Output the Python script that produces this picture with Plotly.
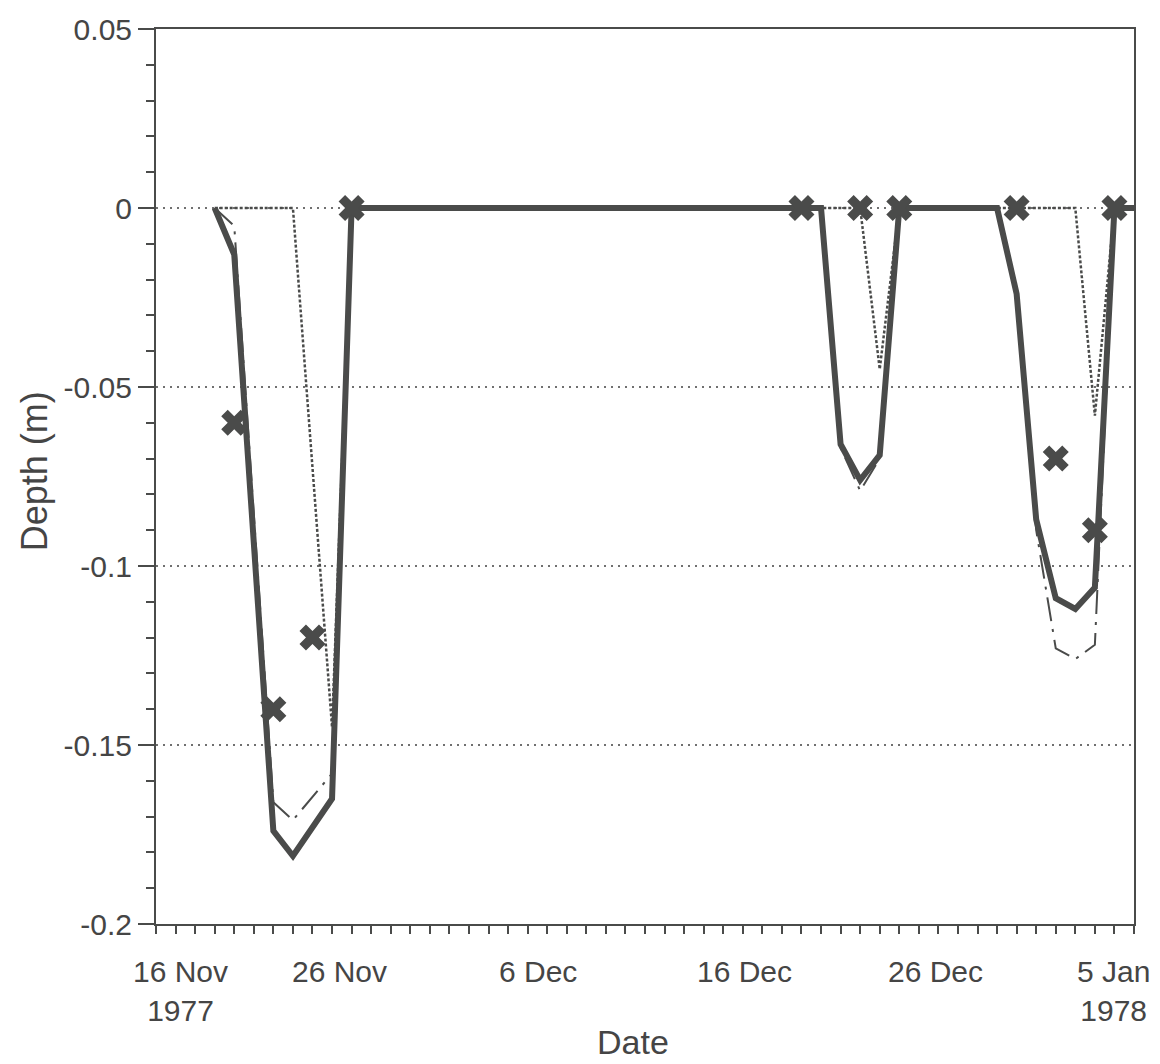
import plotly.graph_objects as go
import pandas as pd

# ---- data ----
model_dates = ['1977-11-19', '1977-11-20', '1977-11-22', '1977-11-23', '1977-11-25', '1977-11-26',
               '1977-12-20', '1977-12-21', '1977-12-22', '1977-12-23', '1977-12-24',
               '1977-12-29', '1977-12-30', '1977-12-31', '1978-01-01', '1978-01-02',
               '1978-01-03', '1978-01-04', '1978-01-05']
model_depth = [0, -0.013, -0.174, -0.181, -0.165, 0,
               0, -0.066, -0.076, -0.069, 0,
               0, -0.024, -0.087, -0.109, -0.112,
               -0.106, 0, 0]

alt_dates = ['1977-11-19', '1977-11-20', '1977-11-22', '1977-11-23', '1977-11-25', '1977-11-26',
             '1977-12-20', '1977-12-21', '1977-12-22', '1977-12-23', '1977-12-24',
             '1977-12-29', '1977-12-30', '1977-12-31', '1978-01-01', '1978-01-02',
             '1978-01-03', '1978-01-04', '1978-01-05']
alt_depth = [0, -0.005, -0.166, -0.171, -0.158, 0,
             0, -0.067, -0.079, -0.070, 0,
             0, -0.024, -0.090, -0.123, -0.126,
             -0.122, 0, 0]

dot_dates = ['1977-11-19', '1977-11-23', '1977-11-25', '1977-11-26',
             '1977-12-22', '1977-12-23', '1977-12-24',
             '1978-01-02', '1978-01-03', '1978-01-04', '1978-01-05']
dot_depth = [0, 0, -0.145, 0,
             0, -0.045, 0,
             0, -0.058, 0, 0]

obs_dates = ['1977-11-20', '1977-11-22', '1977-11-24', '1977-11-26',
             '1977-12-19', '1977-12-22', '1977-12-24',
             '1977-12-30', '1978-01-01', '1978-01-03', '1978-01-04']
obs_depth = [-0.06, -0.14, -0.12, 0,
             0, 0, 0,
             0, -0.07, -0.09, 0]

y_tickvals = [-0.2, -0.15, -0.1, -0.05, 0, 0.05]
y_ticktext = ['-0.2', '-0.15', '-0.1', '-0.05', '0', '0.05']

x_label_dates = ['1977-11-16', '1977-11-26', '1977-12-06', '1977-12-16', '1977-12-26', '1978-01-05']
x_label_text = ['16 Nov<br>1977', '26 Nov', '6 Dec', '16 Dec', '26 Dec', '5 Jan<br>1978']
x_label_shift = [24, -12, -9, 2, -3, -21]

major_x_ticks = pd.date_range('1977-11-16', '1978-01-05', freq='5D')
minor_x_ticks = pd.date_range('1977-11-16', '1978-01-05', freq='1D')

# ---- style ----
INK = '#4a4b4a'
TXT = '#454545'
FONT = 'Liberation Sans, Arial, Helvetica, sans-serif'

fig = go.Figure()

fig.add_trace(go.Scatter(x=dot_dates, y=dot_depth, mode='lines',
                         line=dict(color=INK, width=2.5, dash='3px,2px'),
                         showlegend=False))
fig.add_trace(go.Scatter(x=alt_dates, y=alt_depth, mode='lines',
                         line=dict(color=INK, width=2, dash='24px,8px,3px,8px'),
                         showlegend=False))
fig.add_trace(go.Scatter(x=model_dates, y=model_depth, mode='lines',
                         line=dict(color=INK, width=6),
                         showlegend=False))
fig.add_trace(go.Scatter(x=obs_dates, y=obs_depth, mode='markers',
                         marker=dict(symbol='x', size=23, color=INK, line=dict(width=0)),
                         showlegend=False))

annotations = []
for d, t, s in zip(x_label_dates, x_label_text, x_label_shift):
    annotations.append(dict(x=d, xref='x', y=0, yref='paper', yanchor='top',
                            xanchor='center', xshift=s, yshift=-29, text=t,
                            showarrow=False, align='center',
                            font=dict(family=FONT, size=30, color=TXT)))
annotations.append(dict(x=0.5, xref='paper', y=0, yref='paper', yanchor='middle',
                        xanchor='center', xshift=-12, yshift=-118, text='Date',
                        showarrow=False, font=dict(family=FONT, size=34, color=TXT)))
annotations.append(dict(x=-0.124, xref='paper', y=0.5, yref='paper', yanchor='middle',
                        xanchor='center', yshift=5, text='Depth (m)', textangle=-90,
                        showarrow=False, font=dict(family=FONT, size=36, color=TXT)))

fig.update_layout(
    width=1160, height=1064, autosize=False,
    margin=dict(l=156, r=26, t=27, b=140),
    paper_bgcolor='white', plot_bgcolor='white',
    showlegend=False,
    annotations=annotations,
    xaxis=dict(type='date', range=['1977-11-16', '1978-01-05'],
               showline=True, linecolor=INK, linewidth=2, mirror=True,
               ticks='outside', ticklen=16, tickwidth=2, tickcolor=INK,
               tickmode='array', tickvals=list(major_x_ticks),
               ticktext=[''] * len(major_x_ticks),
               showgrid=False, zeroline=False,
               minor=dict(tickmode='array', tickvals=list(minor_x_ticks),
                          ticks='outside', ticklen=8, tickwidth=1.5,
                          tickcolor=INK, showgrid=False)),
    yaxis=dict(range=[-0.2, 0.05],
               showline=True, linecolor=INK, linewidth=2, mirror=True,
               ticks='outside', ticklen=16, tickwidth=2, tickcolor=INK,
               tickmode='array', tickvals=y_tickvals, ticktext=y_ticktext,
               tickfont=dict(family=FONT, size=30, color=TXT),
               showgrid=True, gridcolor='#707070', gridwidth=2, griddash='2px,5px',
               zeroline=False,
               minor=dict(dtick=0.01, ticks='outside', ticklen=8, tickwidth=1.5,
                          tickcolor=INK, showgrid=False)),
)

fig.write_html('out.html')
